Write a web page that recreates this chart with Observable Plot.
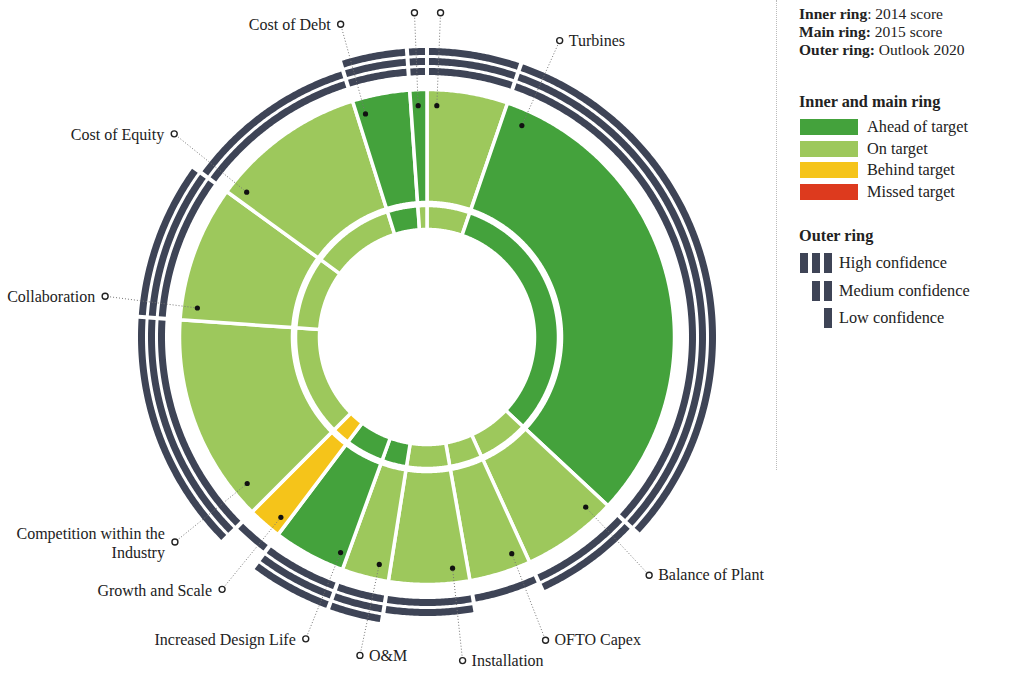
<!DOCTYPE html>
<html>
<head>
<meta charset="utf-8">
<script src="https://cdn.jsdelivr.net/npm/d3@7"></script>
<script src="https://cdn.jsdelivr.net/npm/@observablehq/plot@0.6"></script>
<style>
  body { margin: 0; background: #fff; }
  #wrap { position: relative; width: 1024px; height: 674px; overflow: hidden; font-family: "Liberation Serif", serif; color: #222; }
  #chart { position: absolute; left: 0; top: 0; }
  .lg { position: absolute; white-space: nowrap; font-size: 16.3px; line-height: 18px; }
  .lg.t { font-size: 15.5px; }
  .lg b { font-weight: bold; }
  .sw { position: absolute; }
  #divider { position: absolute; left: 776px; top: 0; height: 470px; border-left: 1px dotted #bbb; }
</style>
</head>
<body>
<div id="wrap"><div id="chart"></div><div id="divider"></div><div id="legend"></div></div>
<script>
// ---------------- data ----------------
const categories = ["", "Turbines", "Balance of Plant", "OFTO Capex", "Installation", "O&M",
  "Increased Design Life", "Growth and Scale", "Competition within the Industry",
  "Collaboration", "Cost of Equity", "Cost of Debt", ""];
// share of the circle (degrees) taken by each category
const shares = [19, 114, 22.5, 14.5, 19, 11, 17, 8, 49, 32, 36.5, 13.5, 4];
const score2014 = ["On target", "Ahead of target", "On target", "On target", "On target", "Ahead of target",
  "Ahead of target", "Behind target", "On target", "On target", "On target", "Ahead of target", "On target"];
const score2015 = ["On target", "Ahead of target", "On target", "On target", "On target", "On target",
  "Ahead of target", "Behind target", "On target", "On target", "On target", "Ahead of target", "Ahead of target"];
// outlook 2020 confidence: 3 = high, 2 = medium, 1 = low
const outlook2020 = [3, 3, 2, 1, 2, 3, 3, 1, 3, 3, 2, 3, 3];
const statusLabels = ["Ahead of target", "On target", "Behind target", "Missed target"];
const confidenceLabels = ["High confidence", "Medium confidence", "Low confidence"];
const ringKeys = [["Inner ring", ": 2014 score"], ["Main ring:", " 2015 score"], ["Outer ring:", " Outlook 2020"]];

// ---------------- style / layout ----------------
const statusColors = ["#44a23c", "#9dc85c", "#f5c41a", "#dd3a1e"];
const outerColor = "#3e4456";
const W = 1024, H = 674, cx = 427, cy = 337;
const rInner = [107.5, 131.5], rMain = [134.5, 247.5];
const bandR = [[262, 269], [272, 279], [282, 289]];
const rDot = 232, rCircle = 325;
const labelAngle = [2.3, 24, 137, 158.7, 173.8, 192, 202, 219.2, 231, 277.3, 308.8, 344.5, 357.7];
const labelSide = ["", "right", "right", "right", "right", "right", "left", "left", "left", "left", "left", "left", ""];

const rad = Math.PI / 180;
const px = (a, r) => r * Math.sin(a * rad);
const py = (a, r) => -r * Math.cos(a * rad);
const angle = d3.scaleLinear([0, d3.sum(shares)], [0, 360]);
const ends = Array.from(d3.cumsum(shares));

function arcRows(id, a0, a1, r0, r1, status) {
  const n = Math.max(2, Math.ceil((a1 - a0) / 0.4) + 1);
  return d3.range(n).map(k => {
    const a = a0 + (a1 - a0) * k / (n - 1);
    return {id, status, x1: px(a, r1), y1: py(a, r1), x2: px(a, r0), y2: py(a, r0)};
  });
}

const ringRows = [], bandRows = [], anchors = [];
categories.forEach((name, i) => {
  const a0 = angle(ends[i] - shares[i]), a1 = angle(ends[i]);
  ringRows.push(...arcRows("in" + i, a0, a1, rInner[0], rInner[1], score2014[i]));
  ringRows.push(...arcRows("main" + i, a0, a1, rMain[0], rMain[1], score2015[i]));
  for (let k = 0; k < outlook2020[i]; k++) {
    const [r0, r1] = bandR[k];
    const pad = 2 / ((r0 + r1) / 2) / rad;
    bandRows.push(...arcRows("b" + i + "_" + k, a0 + pad, a1 - pad, r0, r1, "outer"));
  }
  const la = labelAngle[i];
  anchors.push({
    name: name === "Competition within the Industry" ? "Competition within the\nIndustry" : name,
    side: labelSide[i],
    dx: px(la, rDot), dy: py(la, rDot),
    cxp: px(la, rCircle), cyp: py(la, rCircle)
  });
});

const chart = Plot.plot({
  width: W, height: H, margin: 0,
  x: {domain: [-cx, W - cx], range: [0, W], axis: null},
  y: {domain: [-cy, H - cy], range: [0, H], axis: null},
  color: {domain: statusLabels, range: statusColors},
  style: {fontFamily: "Liberation Serif", background: "transparent"},
  marks: [
    Plot.area(ringRows, {x1: "x1", y1: "y1", x2: "x2", y2: "y2", z: "id", fill: "status", stroke: "white", strokeWidth: 3.5}),
    Plot.area(bandRows, {x1: "x1", y1: "y1", x2: "x2", y2: "y2", z: "id", fill: outerColor}),
    Plot.link(anchors, {x1: "dx", y1: "dy", x2: "cxp", y2: "cyp", stroke: "#777", strokeWidth: 1, strokeDasharray: "1,2"}),
    Plot.dot(anchors, {x: "dx", y: "dy", r: 2.6, fill: "#111"}),
    Plot.dot(anchors, {x: "cxp", y: "cyp", r: 3, fill: "white", stroke: "#222", strokeWidth: 1.4}),
    Plot.text(anchors.filter(d => d.side === "right"), {x: "cxp", y: "cyp", text: "name", textAnchor: "start", dx: 9, fontSize: 16, fill: "#222", lineAnchor: "middle"}),
    Plot.text(anchors.filter(d => d.side === "left"), {x: "cxp", y: "cyp", text: "name", textAnchor: "end", dx: -10, fontSize: 16, fill: "#222", lineAnchor: "middle", lineHeight: 1.2})
  ]
});
document.getElementById("chart").appendChild(chart);

// ---------------- legend ----------------
const legend = document.getElementById("legend");
function add(cls, html, style) {
  const d = document.createElement("div");
  d.className = cls;
  d.innerHTML = html;
  Object.assign(d.style, style);
  legend.appendChild(d);
}
ringKeys.forEach(([b, t], i) => add("lg t", `<b>${b}</b>${t}`, {left: "799px", top: (5 + 18 * i) + "px"}));
add("lg", "<b>Inner and main ring</b>", {left: "799px", top: "93px"});
statusLabels.forEach((s, i) => {
  const top = 119 + 21.7 * i;
  add("sw", "", {left: "800px", top: top + "px", width: "58px", height: "16px", background: statusColors[i]});
  add("lg", s, {left: "867px", top: (top - 1) + "px"});
});
add("lg", "<b>Outer ring</b>", {left: "799px", top: "227px"});
confidenceLabels.forEach((s, i) => {
  const top = 253 + 27.5 * i;
  const n = 3 - i;
  for (let k = 0; k < n; k++) {
    add("sw", "", {left: (824 - 12 * k) + "px", top: top + "px", width: "8px", height: "20px", background: outerColor});
  }
  add("lg", s, {left: "839px", top: (top + 1) + "px"});
});
</script>
</body>
</html>
